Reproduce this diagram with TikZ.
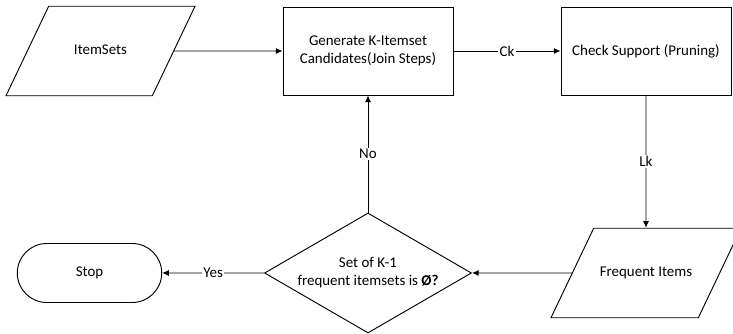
\documentclass[tikz,border=0pt]{standalone}
\usepackage{fontspec}
\setmainfont{Carlito}
\usetikzlibrary{shapes.geometric,shapes.misc,arrows.meta,positioning}

\begin{document}
\begin{tikzpicture}[x=0.75pt, y=-0.75pt, line width=0.7pt,
    font=\fontsize{11.2}{13.4}\selectfont,
    io/.style={trapezium, trapezium left angle=64.5, trapezium right angle=115.5,
      trapezium stretches body, draw, align=center,
      text height=8pt, text depth=2.5pt, inner ysep=28.3pt},
    process/.style={rectangle, draw, align=center,
      minimum width=127.5pt, minimum height=66pt},
    decision/.style={diamond, draw, aspect=1.7, inner sep=0pt, align=center,
      minimum width=155.25pt, minimum height=90pt},
    terminal/.style={rounded rectangle, draw,
      minimum width=115pt, minimum height=44.25pt},
    flow/.style={-{Latex[length=5pt, width=4.5pt]}},
    lbl/.style={fill=white, inner sep=1pt}
  ]
    \clip (0,0) rectangle (733,334);

    % top row
    \node[io, minimum width=141.75pt] (items) at (100.5,51) {ItemSets};
    \node[process] (gen) at (368,51) {Generate K-Itemset\\Candidates(Join Steps)};
    \node[process] (check) at (646,51) {Check Support (Pruning)};

    % bottom row
    \node[io, minimum width=142.5pt] (freq) at (646,273) {Frequent Items};
    \node[decision] (cond) at (368,273) {Set of K-1\\frequent itemsets is \textbf{Ø?}};
    \node[terminal] (stop) at (89.5,273) {Stop};

    \draw[flow] (items) -- (gen);
    \draw[flow] (gen) -- node[lbl] {Ck} (check);
    \draw[flow] (check) -- node[lbl] {Lk} (freq);
    \draw[flow] (freq) -- (cond);
    \draw[flow] (cond) -- node[lbl] {Yes} (stop);
    \draw[flow] (cond) -- node[lbl] {No} (gen);
  \end{tikzpicture}
\end{document}
